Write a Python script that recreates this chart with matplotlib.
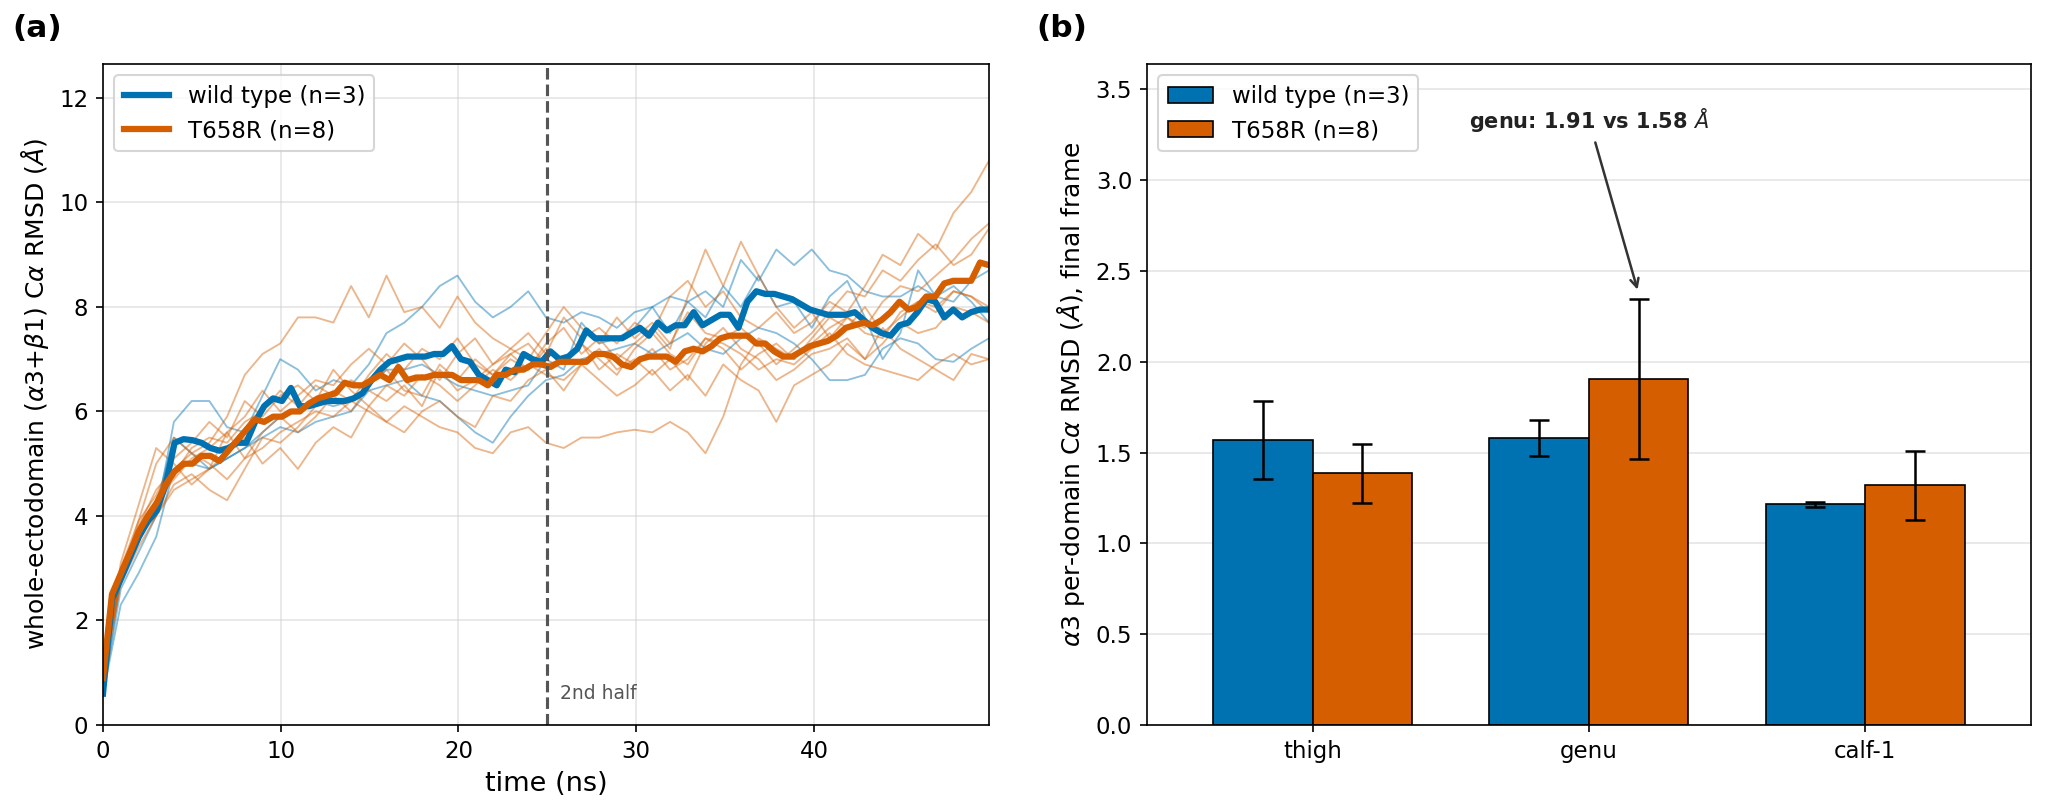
import numpy as np
import matplotlib.pyplot as plt

# ---- panel (a): whole-ectodomain RMSD traces ----
# mean traces, every ~0.5 ns
wt_mean = [0.6, 2.4, 2.8, 3.2, 3.6, 3.9, 4.1, 4.6, 5.4, 5.47,
           5.45, 5.4, 5.3, 5.25, 5.3, 5.4, 5.4, 5.8, 6.1, 6.25,
           6.2, 6.45, 6.1, 6.1, 6.15, 6.2, 6.2, 6.2, 6.25, 6.35,
           6.6, 6.8, 6.95, 7.0, 7.05, 7.05, 7.05, 7.1, 7.1, 7.25,
           7.0, 6.95, 6.7, 6.6, 6.5, 6.8, 6.75, 7.1, 7.0, 6.95,
           7.15, 7.0, 7.05, 7.2, 7.55, 7.4, 7.4, 7.4, 7.4, 7.5,
           7.6, 7.45, 7.7, 7.55, 7.65, 7.65, 7.9, 7.65, 7.75, 7.85,
           7.85, 7.6, 8.1, 8.3, 8.25, 8.25, 8.2, 8.15, 8.05, 7.95,
           7.9, 7.85, 7.85, 7.85, 7.9, 7.75, 7.6, 7.5, 7.45, 7.65,
           7.7, 7.9, 8.15, 8.1, 7.8, 7.95, 7.8, 7.9, 7.95, 7.95]
mut_mean = [0.9, 2.5, 2.9, 3.3, 3.7, 4.0, 4.25, 4.6, 4.85, 5.0,
            5.0, 5.15, 5.15, 5.05, 5.25, 5.45, 5.65, 5.85, 5.8, 5.9,
            5.9, 6.0, 6.0, 6.15, 6.25, 6.3, 6.35, 6.55, 6.5, 6.5,
            6.6, 6.7, 6.6, 6.85, 6.6, 6.65, 6.65, 6.7, 6.7, 6.7,
            6.6, 6.6, 6.6, 6.5, 6.7, 6.7, 6.8, 6.8, 6.9, 6.9,
            6.85, 6.95, 6.95, 6.95, 6.95, 7.1, 7.1, 7.05, 6.9, 6.85,
            7.0, 7.05, 7.05, 7.05, 6.95, 7.15, 7.2, 7.15, 7.25, 7.4,
            7.45, 7.45, 7.45, 7.3, 7.3, 7.15, 7.05, 7.05, 7.15, 7.25,
            7.3, 7.35, 7.45, 7.6, 7.65, 7.7, 7.65, 7.75, 7.9, 8.1,
            7.95, 8.0, 8.2, 8.2, 8.45, 8.5, 8.5, 8.5, 8.85, 8.8]

# individual replicas, every ~1 ns
wt_runs = [
    [0.6, 2.6, 3.3, 4.0, 5.8, 6.2, 6.2, 5.7, 5.6, 6.3, 7.0,
     6.8, 6.4, 6.6, 6.5, 6.9, 7.5, 7.7, 8.0, 8.4, 8.6,
     8.1, 7.8, 8.0, 8.3, 7.8, 7.7, 7.9, 7.8, 7.6, 7.9,
     8.0, 8.2, 8.1, 8.3, 8.0, 8.9, 8.5, 9.1, 8.8, 9.1,
     8.7, 8.6, 8.3, 8.2, 8.2, 8.4, 8.2, 8.1, 8.5, 8.7],
    [0.6, 2.3, 2.9, 3.6, 4.9, 5.0, 4.9, 5.1, 5.3, 5.5, 5.7,
     5.6, 5.8, 5.9, 6.0, 6.4, 6.5, 6.6, 6.3, 6.2, 5.9,
     5.6, 5.4, 5.9, 6.3, 6.6, 6.7, 7.0, 7.1, 7.2, 7.3,
     7.1, 7.3, 7.5, 7.2, 7.1, 7.4, 7.6, 7.5, 7.3, 7.0,
     6.6, 6.6, 6.7, 7.2, 7.4, 7.3, 7.0, 6.95, 7.2, 7.4],
    [0.6, 2.8, 3.5, 4.2, 5.5, 5.2, 4.9, 5.1, 5.3, 5.6, 5.9,
     6.0, 6.2, 6.1, 6.2, 6.5, 6.8, 6.8, 6.9, 6.7, 6.5,
     6.4, 6.3, 6.4, 6.5, 7.0, 6.8, 7.7, 7.3, 7.4, 7.6,
     8.0, 7.5, 8.1, 7.8, 8.4, 8.0, 8.6, 8.0, 8.1, 7.6,
     8.2, 8.5, 7.8, 7.0, 7.5, 8.7, 8.2, 8.4, 8.1, 7.7],
]
mut_runs = [
    [0.9, 3.0, 3.9, 5.0, 5.5, 5.2, 5.0, 4.7, 5.1, 5.3, 5.6,
     5.8, 6.0, 5.9, 6.2, 6.0, 5.8, 6.1, 5.9, 5.7, 5.6,
     5.3, 5.2, 5.6, 5.7, 5.4, 5.3, 5.5, 5.5, 5.6, 5.65,
     5.6, 5.8, 5.6, 5.2, 5.9, 6.9, 7.4, 7.2, 7.0, 7.3,
     7.6, 7.8, 7.5, 7.4, 7.9, 8.1, 8.0, 8.3, 8.2, 8.0],
    [0.9, 2.9, 3.8, 4.5, 4.9, 5.2, 5.4, 5.9, 6.7, 7.1, 7.3,
     7.8, 7.8, 7.7, 8.4, 7.8, 8.6, 7.9, 8.0, 7.6, 8.2,
     7.7, 7.4, 7.2, 7.5, 7.1, 7.8, 7.4, 7.6, 7.3, 7.7,
     7.5, 8.2, 8.5, 8.0, 8.3, 7.8, 7.6, 7.9, 7.5, 7.7,
     8.1, 7.9, 8.4, 9.0, 8.8, 9.4, 9.1, 9.8, 10.2, 10.8],
    [0.9, 2.7, 3.4, 4.0, 4.6, 4.8, 4.5, 4.3, 4.9, 5.5, 5.4,
     5.7, 6.1, 6.4, 6.2, 6.7, 7.1, 6.8, 7.2, 7.0, 7.4,
     6.9, 6.7, 7.0, 6.8, 7.3, 7.6, 7.1, 7.4, 7.0, 7.3,
     7.6, 7.2, 8.2, 9.1, 8.4, 9.25, 8.6, 8.0, 7.6, 7.9,
     7.4, 7.8, 7.6, 8.1, 8.4, 8.3, 8.6, 8.9, 9.3, 9.6],
    [0.9, 3.1, 4.2, 5.3, 5.0, 4.6, 4.9, 5.2, 5.5, 5.0, 5.3,
     4.9, 5.4, 5.7, 5.5, 6.1, 5.8, 5.6, 6.0, 6.2, 5.9,
     5.7, 6.3, 6.2, 6.6, 6.8, 6.4, 6.9, 6.6, 6.3, 6.5,
     6.8, 6.4, 6.7, 6.3, 6.9, 6.6, 6.4, 5.8, 6.5, 6.7,
     6.9, 7.3, 7.0, 7.6, 7.2, 7.0, 6.8, 6.6, 7.1, 7.0],
    [0.9, 2.8, 3.6, 4.3, 4.7, 5.1, 5.3, 5.6, 5.9, 6.4, 6.0,
     6.3, 6.6, 6.5, 6.9, 7.2, 6.9, 7.3, 7.0, 6.6, 7.1,
     7.4, 6.9, 7.2, 7.0, 7.5, 8.0, 7.6, 7.3, 7.8, 7.4,
     7.7, 7.3, 7.9, 7.5, 7.4, 7.6, 7.3, 6.9, 7.2, 7.5,
     7.9, 8.3, 8.2, 8.7, 8.5, 8.9, 9.2, 8.8, 9.0, 9.5],
    [0.9, 2.9, 3.5, 4.1, 4.8, 5.3, 5.5, 5.4, 5.8, 6.0, 6.4,
     6.1, 6.5, 6.3, 6.6, 6.4, 6.2, 6.5, 6.1, 6.8, 6.4,
     6.6, 6.9, 7.1, 7.3, 6.9, 7.0, 7.3, 6.8, 7.1, 6.9,
     7.2, 6.8, 7.0, 7.4, 7.2, 6.8, 7.1, 7.3, 7.0, 7.4,
     7.8, 7.6, 8.0, 7.5, 7.8, 8.1, 7.9, 8.3, 8.2, 7.9],
    [0.9, 2.8, 3.9, 4.4, 5.1, 5.4, 5.8, 5.5, 6.2, 5.9, 6.3,
     6.5, 6.2, 6.8, 6.4, 6.1, 6.5, 6.3, 6.7, 6.5, 6.2,
     6.5, 6.8, 6.6, 6.9, 6.7, 6.6, 6.9, 7.2, 6.8, 7.0,
     6.7, 7.0, 6.6, 7.3, 7.6, 7.2, 7.0, 6.6, 6.8, 7.1,
     7.2, 7.4, 7.0, 7.3, 7.7, 7.5, 7.6, 8.0, 7.9, 7.7],
    [0.9, 3.0, 3.6, 4.0, 4.5, 4.7, 4.9, 5.6, 5.1, 5.6, 5.9,
     5.6, 5.9, 6.3, 6.0, 6.5, 6.8, 6.4, 6.3, 6.9, 6.6,
     7.0, 6.7, 7.1, 6.8, 7.2, 6.9, 7.3, 7.0, 6.7, 7.2,
     7.5, 7.1, 6.9, 7.4, 7.3, 7.1, 6.8, 7.0, 6.9, 7.2,
     7.5, 7.1, 6.9, 6.8, 6.7, 6.6, 6.9, 7.1, 6.9, 7.0],
]
t_end = 49.85
t_mean = np.linspace(0, t_end, len(wt_mean))
t_runs = np.linspace(0, t_end, len(wt_runs[0]))

# ---- panel (b): per-domain final-frame RMSD ----
domains = ["thigh", "genu", "calf-1"]
wt_dom = [1.57, 1.58, 1.215]
wt_err = [0.215, 0.10, 0.012]
mut_dom = [1.385, 1.905, 1.32]
mut_err = [0.16, 0.44, 0.19]

c_wt = "#0072B2"
c_mut = "#D55E00"

fig = plt.figure(figsize=(2048 / 150, 810 / 150), dpi=150)
ax1 = fig.add_axes([0.0503, 0.105, 0.4326, 0.816])
ax2 = fig.add_axes([0.560, 0.105, 0.4317, 0.816])

for run in wt_runs:
    ax1.plot(t_runs, run, color=c_wt, lw=0.9, alpha=0.45)
for run in mut_runs:
    ax1.plot(t_runs, run, color=c_mut, lw=0.9, alpha=0.45)
ax1.plot(t_mean, wt_mean, color=c_wt, lw=3, label="wild type (n=3)")
ax1.plot(t_mean, mut_mean, color=c_mut, lw=3, label="T658R (n=8)")
ax1.axvline(25, color="#555555", ls="--", lw=1.5)
ax1.text(25.7, 0.5, "2nd half", color="#555555", fontsize=9)
ax1.set_xlim(0, t_end)
ax1.set_ylim(0, 12.65)
ax1.set_xlabel("time (ns)", fontsize=13)
ax1.set_ylabel(r"whole-ectodomain ($\alpha$3+$\beta$1) C$\alpha$ RMSD ($\AA$)", fontsize=12)
ax1.tick_params(labelsize=11)
ax1.grid(True, color="#cccccc", alpha=0.5, lw=0.8)
ax1.legend(loc="upper left", fontsize=11)

x = np.arange(len(domains))
w = 0.36
ax2.bar(x - w / 2, wt_dom, w, yerr=wt_err, color=c_wt, edgecolor="black", lw=0.8,
        capsize=5, error_kw={"lw": 1.2, "capthick": 1.2}, label="wild type (n=3)")
ax2.bar(x + w / 2, mut_dom, w, yerr=mut_err, color=c_mut, edgecolor="black", lw=0.8,
        capsize=5, error_kw={"lw": 1.2, "capthick": 1.2}, label="T658R (n=8)")
ax2.set_xticks(x)
ax2.set_xticklabels(domains)
ax2.set_xlim(-0.6, 2.6)
ax2.set_ylim(0, 3.64)
ax2.set_ylabel(r"$\alpha$3 per-domain C$\alpha$ RMSD ($\AA$), final frame", fontsize=12)
ax2.tick_params(labelsize=11)
ax2.grid(True, axis="y", color="#cccccc", alpha=0.5, lw=0.8)
ax2.set_axisbelow(True)
ax2.legend(loc="upper left", fontsize=11)
ax2.annotate(r"genu: %.2f vs %.2f $\AA$" % (mut_dom[1], wt_dom[1]),
             xy=(1 + w / 2, mut_dom[1] + mut_err[1] + 0.03),
             xytext=(1.0, 3.33), ha="center", va="center",
             fontsize=10, fontweight="bold", color="#222222",
             arrowprops=dict(arrowstyle="->", color="#333333", lw=1.2))

fig.text(0.006, 0.965, "(a)", fontsize=15, fontweight="bold", va="center")
fig.text(0.506, 0.965, "(b)", fontsize=15, fontweight="bold", va="center")

fig.savefig("out.png", dpi=150)
